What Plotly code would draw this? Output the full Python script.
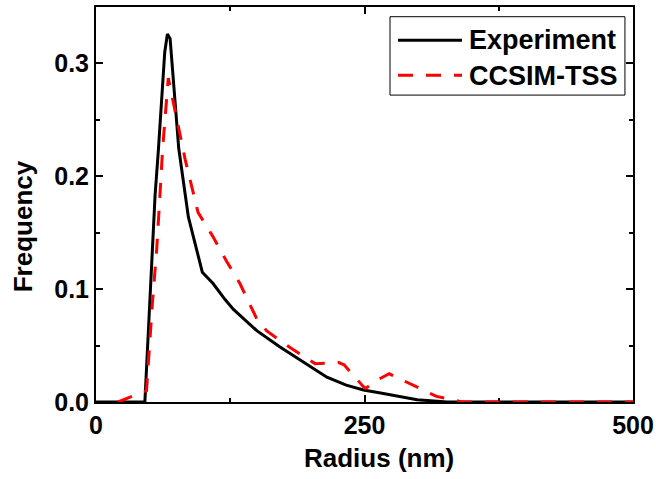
import plotly.graph_objects as go

# Particle radius distributions (nm vs frequency)
exp_radius = [0, 45.5, 55, 58, 64, 66.5, 69, 77, 86, 94, 99, 109, 120, 128, 150,
              171, 190, 215, 233, 249, 265, 299, 327, 500]
exp_freq = [0, 0, 0.183, 0.222, 0.31, 0.326, 0.322, 0.225, 0.164, 0.135, 0.115,
            0.105, 0.091, 0.082, 0.063, 0.049, 0.037, 0.022, 0.015, 0.0106,
            0.008, 0.002, 0, 0]

sim_radius = [20.5, 47, 52.7, 56.5, 60.2, 62, 67.3, 83, 95, 108.6, 121.7, 134,
              150, 159, 181, 204, 226, 231, 249, 251, 262, 273, 317, 333, 341, 500]
sim_freq = [0, 0.01, 0.09, 0.135, 0.194, 0.224, 0.287, 0.215, 0.168, 0.147,
            0.1245, 0.105, 0.073, 0.063, 0.048, 0.034, 0.035, 0.033, 0.0136,
            0.012, 0.0195, 0.025, 0.005, 0.002, 0, 0]

series_names = ["Experiment", "CCSIM-TSS"]

FONT = "Liberation Sans, Arial, sans-serif"
EXP_LINE = dict(color="black", width=3)
SIM_LINE = dict(color="#ff0000", width=3, dash="15px,13px")

fig = go.Figure()
fig.add_trace(go.Scatter(x=exp_radius, y=exp_freq, mode="lines",
                         name=series_names[0], line=EXP_LINE))
fig.add_trace(go.Scatter(x=sim_radius, y=sim_freq, mode="lines",
                         name=series_names[1], line=SIM_LINE))

axis_common = dict(
    showline=True, linecolor="black", linewidth=2, mirror="allticks",
    ticks="inside", ticklen=7, tickwidth=1.5, tickcolor="black",
    showgrid=False, zeroline=False, layer="below traces", automargin=False,
    tickfont=dict(family=FONT, size=25, color="black", weight="bold"),
)

fig.update_xaxes(range=[0, 500], tickvals=[0, 250, 500],
                 minor=dict(ticks="inside", ticklen=4, tickwidth=1.5,
                            tickcolor="black", dtick=125, tick0=0, showgrid=False),
                 **axis_common)
fig.update_yaxes(range=[0, 0.35], tickvals=[0, 0.1, 0.2, 0.3], tickformat=".1f",
                 minor=dict(ticks="inside", ticklen=4, tickwidth=1.5,
                            tickcolor="black", dtick=0.05, tick0=0, showgrid=False),
                 **axis_common)

# Axis titles
fig.add_annotation(text="Radius (nm)", xref="paper", yref="paper", x=0.527, y=-0.142,
                   showarrow=False, xanchor="center", yanchor="middle",
                   font=dict(family=FONT, size=26, color="black", weight="bold"))
fig.add_annotation(text="Frequency", xref="paper", yref="paper", x=-0.137, y=0.446,
                   showarrow=False, xanchor="center", yanchor="middle", textangle=-90,
                   font=dict(family=FONT, size=26, color="black", weight="bold"))

# Boxed legend in the upper right corner
fig.add_shape(type="rect", xref="paper", yref="paper",
              x0=0.5475, x1=0.985, y0=0.777, y1=0.9754,
              line=dict(color="black", width=1), fillcolor="white", layer="above")
legend_rows = [(0.9157, EXP_LINE, 0.9166), (0.8273, SIM_LINE, 0.8258)]
for name, (ly, style, ty) in zip(series_names, legend_rows):
    fig.add_shape(type="line", xref="paper", yref="paper",
                  x0=0.5624, x1=0.6816, y0=ly, y1=ly, line=style, layer="above")
    fig.add_annotation(text=name, xref="paper", yref="paper", x=0.690, y=ty,
                       showarrow=False, xanchor="left", yanchor="middle",
                       font=dict(family=FONT, size=27, color="black", weight="bold"))

fig.update_layout(
    template="none",
    width=656, height=479,
    margin=dict(l=96, r=23, t=7, b=77),
    paper_bgcolor="white", plot_bgcolor="white",
    showlegend=False,
)

fig.write_html("out.html")
